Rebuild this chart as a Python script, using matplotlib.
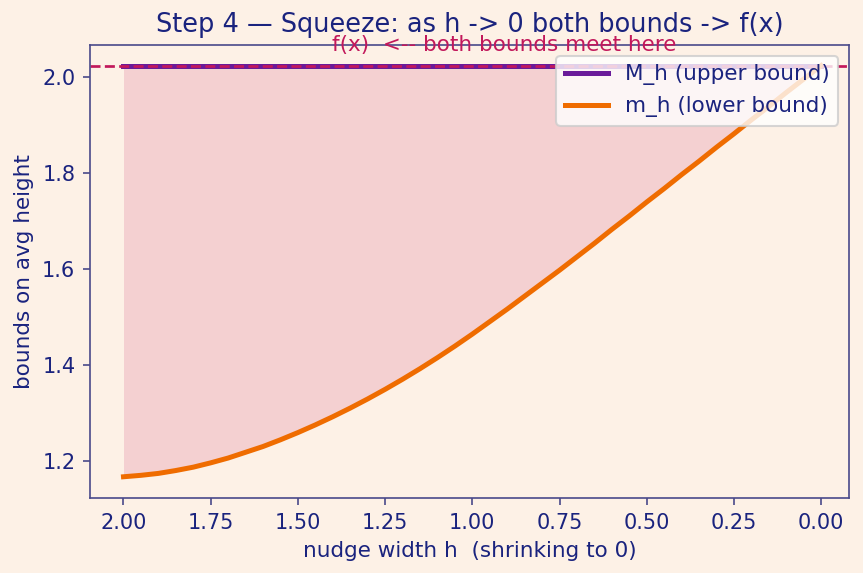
import matplotlib
matplotlib.use("Agg")
import matplotlib.pyplot as plt

# nudge widths h and read-off bound values
h_vals = [2.00, 1.95, 1.90, 1.85, 1.80, 1.75, 1.70, 1.65, 1.60, 1.55, 1.50,
          1.45, 1.40, 1.35, 1.30, 1.25, 1.20, 1.15, 1.10, 1.05, 1.00,
          0.95, 0.90, 0.85, 0.80, 0.75, 0.70, 0.65, 0.60, 0.55, 0.50,
          0.45, 0.40, 0.35, 0.30, 0.25, 0.20, 0.15, 0.10, 0.05, 0.00]
lower_vals = [1.168, 1.171, 1.175, 1.181, 1.188, 1.197, 1.207, 1.219, 1.231, 1.245, 1.260,
              1.276, 1.293, 1.311, 1.330, 1.350, 1.371, 1.393, 1.416, 1.440, 1.465,
              1.491, 1.517, 1.544, 1.571, 1.598, 1.626, 1.654, 1.683, 1.711, 1.740,
              1.768, 1.797, 1.825, 1.854, 1.882, 1.911, 1.939, 1.968, 1.996, 2.024]
upper_vals = [2.024] * len(h_vals)
fx_value = 2.024
x_ticks = [2.0, 1.75, 1.5, 1.25, 1.0, 0.75, 0.5, 0.25, 0.0]
x_tick_labels = ["2.00", "1.75", "1.50", "1.25", "1.00", "0.75", "0.50", "0.25", "0.00"]
y_ticks = [1.2, 1.4, 1.6, 1.8, 2.0]

BG = "#fdf1e6"
NAVY = "#1a237e"
SPINE = "#4a4a8a"
PURPLE = "#6a1b9a"
ORANGE = "#ef6c00"
CRIMSON = "#c2185b"

fig = plt.figure(figsize=(863 / 150, 573 / 150), dpi=150, facecolor=BG)
ax = fig.add_axes([0.1043, 0.1309, 0.8795, 0.7906])
ax.set_facecolor(BG)

ax.fill_between(h_vals, lower_vals, upper_vals, color=CRIMSON, alpha=0.15, linewidth=0)
ax.plot(h_vals, upper_vals, color=PURPLE, lw=2.4, label="M_h (upper bound)")
ax.plot(h_vals, lower_vals, color=ORANGE, lw=2.4, label="m_h (lower bound)")
ax.axhline(fx_value, color=CRIMSON, ls="--", lw=1.3)
ax.text(0.91, 2.066, "f(x)  <-- both bounds meet here", color=CRIMSON,
        ha="center", va="center", fontsize=10.3)

ax.set_xlim(2.096, -0.08)
ax.set_ylim(1.1238, 2.067)
ax.set_xticks(x_ticks)
ax.set_xticklabels(x_tick_labels)
ax.set_yticks(y_ticks)

ax.set_title("Step 4 \u2014 Squeeze: as h -> 0 both bounds -> f(x)", color=NAVY, fontsize=12.3)
ax.set_xlabel("nudge width h  (shrinking to 0)", color=NAVY, fontsize=10.3)
ax.set_ylabel("bounds on avg height", color=NAVY, fontsize=10.3)

for s in ax.spines.values():
    s.set_color(SPINE)
ax.tick_params(colors=SPINE, labelcolor=NAVY, labelsize=10)

leg = ax.legend(loc="upper right", fontsize=10.3, facecolor="white", framealpha=0.8,
                edgecolor="#cccccc")
for t in leg.get_texts():
    t.set_color(NAVY)

fig.savefig("out.png", dpi=150, facecolor=BG)
